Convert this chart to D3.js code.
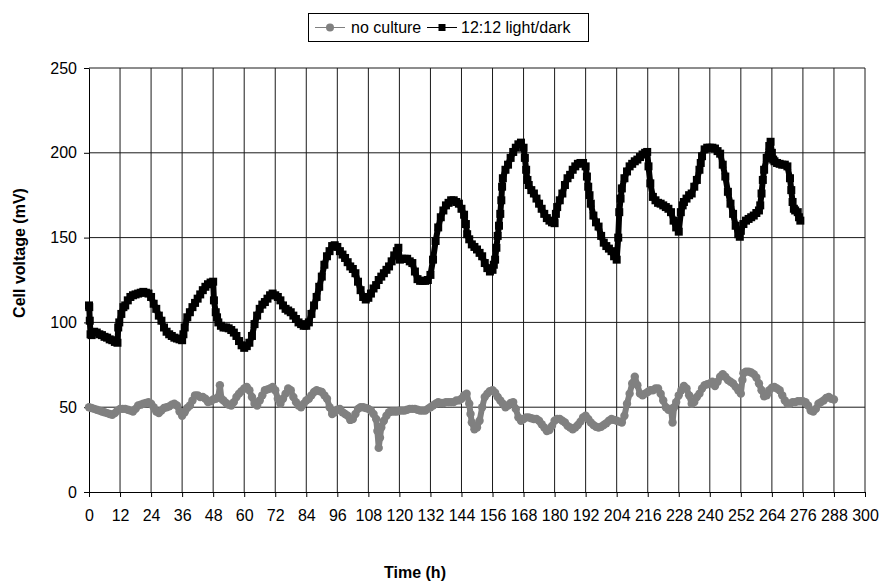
<!DOCTYPE html>
<html>
<head>
<meta charset="utf-8">
<script src="https://cdn.jsdelivr.net/npm/d3@7"></script>
<style>
  body { margin: 0; background: #fff; }
  svg text { font-family: "Liberation Sans", Arial, sans-serif; fill: #000; }
</style>
</head>
<body>
<svg id="chart" width="881" height="582"></svg>
<script>
// tick values for the axes
const xTicks = [0, 12, 24, 36, 48, 60, 72, 84, 96, 108, 120, 132, 144, 156, 168, 180, 192, 204, 216, 228, 240, 252, 264, 276, 288, 300];
const yTicks = [0, 50, 100, 150, 200, 250];

const seriesNames = ["no culture", "12:12 light/dark"];

// [time (h), cell voltage (mV)]
const noCulture = [[0,50],[1,49.5],[2,49],[3,48.5],[4,48],[5,47.5],[6,47],[7,46.5],[8,46],[9,45.5],[10,46.5],[11,48],[12,49],[13,49],[14,49],[15,48.5],[16,48],[17,47.5],[18,49],[19,51],[20,51.5],[21,52],[22,52.5],[23,53],[24,52],[25,50],[26,47.5],[27,46.5],[28,48],[29,49.5],[30,50],[31,50.5],[32,51.5],[33,52],[34,51],[35,47.5],[36,45],[37,47],[38,49.5],[39,51],[40,54],[41,57],[42,57],[43,56],[44,56],[45,55],[46,53],[47,53.5],[48,54.5],[49,55],[50,56],[50.6,63],[51.2,55],[52,54],[53,52.5],[54,51.5],[55,51],[56,53],[57,56],[58,58],[59,59.5],[60,61],[61,62],[62,60],[63,56],[64,52],[65,51],[66,54],[67,57],[68,60],[69,60.5],[70,61],[71,62],[72,60],[73,55],[74,52],[75,55],[76,58],[77,61],[78,60],[79,56],[80,53],[81,51],[82,50],[83,52],[84,54],[85,55],[86,57],[87,59],[88,60],[89,59.5],[90,59],[91,57],[92,55],[93,50],[94,46],[95,47],[96,48.5],[97,49],[98,47],[99,46],[100,45],[101,42.5],[102,43],[103,46],[104,49],[105,50],[106,50],[107,49.5],[108,49],[109,48],[110,46],[111,43],[111.5,36],[112,26],[112.5,32],[113,38],[114,42],[115,45],[116,47],[117,47.5],[118,47.5],[119,47.5],[120,48],[121,48],[122,48],[123,48.5],[124,49],[125,49],[126,49],[127,48.5],[128,48],[129,48],[130,48],[131,49],[132,50],[133,51],[134,52],[135,53],[136,52.5],[137,52.5],[138,53],[139,53],[140,53],[141,53],[142,54],[143,54],[144,55],[145,57],[146,58],[147,52],[147.5,46],[148,41],[149,37],[150,38],[151,42],[152,50],[153,56],[154,58],[155,59.5],[156,60],[157,58.5],[158,56],[159,54],[160,52],[161,50],[162,51],[163,52.5],[164,53],[165,49],[166,44],[167,42],[168,43],[169,44],[170,44],[171,43.5],[172,43],[173,43],[174,42],[175,40],[176,38],[177,36],[178,36.5],[179,39],[180,42],[181,43],[182,43],[183,42],[184,41],[185,39],[186,38],[187,37],[188,38],[189,39.5],[190,41.5],[191,44],[192,45],[193,43],[194,41],[195,39.5],[196,38.5],[197,38],[198,38.5],[199,39.5],[200,40.5],[201,42],[202,43],[203,42.5],[204,42],[205,41.5],[206,41],[207,45],[208,52],[209,58],[210,64],[211,68],[212,63],[213,58],[214,57],[215,58],[216,59],[217,60],[218,60],[219,61],[220,61],[221,58],[222,54],[223,50],[224,48.5],[225,49],[225.6,41],[226.2,50],[227,53],[228,57],[229,60],[230,62.5],[231,61],[232,57],[233,52],[234,53],[235,56],[236,58],[237,61],[238,63],[239,63.5],[240,64],[241,65],[242,62.5],[243,65],[244,68],[245,69.5],[246,68],[247,66],[248,65],[249,64],[250,62],[251,60],[252,58],[252.6,66],[253,70],[254,71],[255,71],[256,70.5],[257,69.5],[258,67.5],[259,64],[260,60],[261,56.5],[262,57],[263,60],[264,61.5],[265,62],[266,61],[267,60],[268,57],[269,54],[270,52],[271,52],[272,53],[273,53],[274,53.5],[275,53.5],[276,53.5],[277,53],[278,51],[279,48],[280,47.5],[281,49],[282,52],[283,53],[284,54],[285,55.5],[286,56],[287,55],[288,54.5]];

const lightDark = [[0,110],[0.1,109],[0.3,101],[0.6,93],[1,92.5],[2,94.5],[3,94],[4,93],[5,92.5],[6,91.5],[7,91],[8,90],[9,89.5],[10,88.5],[11,88],[11.3,97],[11.7,100],[12.5,105],[13.3,109],[14,110],[15,113],[16,115],[17,116],[18,116.5],[19,117],[20,117.5],[21,118],[22,117.5],[23,117],[24,115],[25,111],[26,108],[27,104],[28,101],[29,97],[30,94.5],[31,93],[32,92],[33,91],[34,90.5],[35,90],[36,89.5],[36.5,93],[37,97],[38,103],[39,106],[40,109],[41,111.5],[42,114],[43,116.5],[44,119],[45,121],[46,122.5],[47,123.5],[48,124],[48.3,113],[49,106],[49.5,103],[50,100],[51,98],[52,97],[53,97],[54,96.5],[55,95.5],[56,94],[57,92],[58,89],[59,86.5],[60,85],[61,86],[62,88],[63,92],[64,99],[65,104],[66,108],[67,110.5],[68,112],[69,114],[70,116],[71,117],[72,116],[73,115],[74,113],[75,110],[76,108],[77,107],[78,106],[79,104],[80,102],[81,100],[82,99],[83,98],[84,98],[85,100],[86,105],[87,110],[88,115],[89,121],[90,127],[91,134],[92,139],[93,142],[94,145],[95,145.5],[96,144.5],[97,142],[98,140],[99,138],[100,135.5],[101,133],[102,131.5],[103,129],[104,124],[105,119],[106,115],[107,113.5],[108,114.5],[109,117],[110,120],[111,122],[112,125],[113,127],[114,129],[115,131],[116,133],[117,136],[118,139.5],[119,142],[119.6,144],[120.2,137],[121,137.5],[122,137.5],[123,137.5],[124,136],[125,135],[126,130],[127,125.5],[128,124.5],[129,124.5],[130,124.5],[131,125],[132,128],[133,137],[134,148],[135,156],[136,162],[137,166],[138,169],[139,170.5],[140,172],[141,172],[142,171],[143,170],[144,167],[145,163.5],[145.7,158],[146.2,152],[147,149],[148,146],[149,144.5],[150,143],[151,141],[152,139],[153,135],[154,132],[155,130],[156,131],[156.5,134],[157,137],[157.5,144],[158,151],[158.5,157],[159,164],[159.4,172],[159.7,180],[160,185],[161,190],[162,193],[163,197],[164,200.5],[165,203],[166,205],[167,206],[168,203],[168.5,197],[169,190],[169.5,184],[170,181],[171,178],[172,176],[173,173],[174,170],[175,167],[176,164],[177,161.5],[178,160],[179,159],[180,158.5],[180.5,164],[181,168],[182,172],[183,176],[184,181],[185,185],[186,187],[187,190],[188,192],[189,193.5],[190,194],[191,194],[192,192],[192.5,186],[193,180],[193.5,175],[194,170],[195,163],[196,159],[197,156.5],[198,151],[199,147],[200,145],[201,143.5],[202,142],[203,139],[204,137],[204.6,150],[205,165],[205.5,173],[206,179],[207,185],[208,189],[209,192],[210,193.5],[211,195],[212,196],[213,197.5],[214,199],[215,200],[215.8,200.5],[216.3,192],[217,182],[218,174],[219,172],[220,170.5],[221,170],[222,169],[223,168],[224,167],[225,165],[226,160],[227,156],[228,153.5],[228.8,165],[229.5,169],[230,171],[231,173],[232,175],[233,176],[234,180],[235,184],[236,190],[236.5,194],[237,198],[238,202],[239,203],[240,203],[241,203],[242,202.5],[243,201],[244,199.5],[245,193],[246,186],[247,177],[248,170],[249,164],[250,157],[251,152],[251.6,150.5],[252,154],[253,158],[254,160],[255,161],[256,162],[257,163],[258,164.5],[259,166],[259.5,169],[260,176],[260.5,184],[261,190],[262,197],[263,204],[263.5,206.5],[264,200],[264.5,196],[265,195],[266,194],[267,193.5],[268,193],[269,193],[270,192],[271,185],[271.5,178],[272,171],[272.5,167],[273,166],[274,165],[274.5,162],[275,160]];

const plot = {left: 89, right: 865, top: 68, bottom: 492};

function drawChart() {
    const svg = d3.select('#chart');

    const x = d3.scaleLinear().domain([0, 300]).range([plot.left, plot.right]);
    const y = d3.scaleLinear().domain([0, 250]).range([plot.bottom, plot.top]);

    // grid
    const grid = svg.append('g').attr('stroke', '#1a1a1a').attr('stroke-width', 1);
    grid.selectAll('line.v')
        .data(xTicks.slice(1))
        .join('line')
        .attr('x1', d => x(d)).attr('x2', d => x(d))
        .attr('y1', plot.top).attr('y2', plot.bottom);
    grid.selectAll('line.h')
        .data(yTicks.slice(1))
        .join('line')
        .attr('x1', plot.left).attr('x2', plot.right)
        .attr('y1', d => y(d)).attr('y2', d => y(d));

    // axes
    const xAxis = svg.append('g')
        .attr('transform', 'translate(0,' + plot.bottom + ')')
        .call(d3.axisBottom(x).tickValues(xTicks).tickSize(5).tickPadding(13).tickSizeOuter(0));
    const yAxis = svg.append('g')
        .attr('transform', 'translate(' + plot.left + ',0)')
        .call(d3.axisLeft(y).tickValues(yTicks).tickSize(5).tickPadding(7).tickSizeOuter(0));
    [xAxis, yAxis].forEach(a => {
        a.attr('font-size', 16).attr('font-family', null);
        a.selectAll('path, line').attr('stroke', '#000');
        a.selectAll('text').attr('fill', '#000');
    });

    const line = d3.line().x(d => x(d[0])).y(d => y(d[1]));

    // no culture: grey line with round markers (markers overlap into a band)
    svg.append('path')
        .datum(noCulture)
        .attr('fill', 'none').attr('stroke', '#808080').attr('stroke-width', 6)
        .attr('stroke-linejoin', 'round').attr('stroke-linecap', 'round')
        .attr('d', line);
    svg.append('g').attr('fill', '#808080')
        .selectAll('circle')
        .data(noCulture)
        .join('circle')
        .attr('cx', d => x(d[0]))
        .attr('cy', d => y(d[1]))
        .attr('r', 4.2);

    // 12:12 light/dark: black line with square markers, dense enough to read as a band
    svg.append('path')
        .datum(lightDark)
        .attr('fill', 'none').attr('stroke', '#000').attr('stroke-width', 6)
        .attr('stroke-linejoin', 'round')
        .attr('d', line);
    svg.append('g').attr('fill', '#000')
        .selectAll('rect')
        .data(lightDark)
        .join('rect')
        .attr('x', d => x(d[0]) - 4)
        .attr('y', d => y(d[1]) - 4)
        .attr('width', 8).attr('height', 8);

    // axis titles
    svg.append('text')
        .attr('transform', 'translate(25,253) rotate(-90)')
        .attr('text-anchor', 'middle')
        .attr('font-size', 16).attr('font-weight', 'bold')
        .text('Cell voltage (mV)');
    svg.append('text')
        .attr('x', 415).attr('y', 578)
        .attr('text-anchor', 'middle')
        .attr('font-size', 16).attr('font-weight', 'bold')
        .text('Time (h)');

    // legend
    const legend = svg.append('g');
    legend.append('rect')
        .attr('x', 308.5).attr('y', 13.5).attr('width', 280).attr('height', 28)
        .attr('fill', '#fff').attr('stroke', '#000');
    const items = [
        {name: seriesNames[0], x0: 315, color: '#808080', shape: 'circle', tx: 351},
        {name: seriesNames[1], x0: 427, color: '#000', shape: 'square', tx: 461}
    ];
    items.forEach(it => {
        legend.append('line')
            .attr('x1', it.x0).attr('x2', it.x0 + 30)
            .attr('y1', 27.5).attr('y2', 27.5)
            .attr('stroke', it.color);
        if (it.shape === 'circle') {
            legend.append('circle').attr('cx', it.x0 + 15).attr('cy', 27.5).attr('r', 4).attr('fill', it.color);
        } else {
            legend.append('rect').attr('x', it.x0 + 11.5).attr('y', 24).attr('width', 7).attr('height', 7).attr('fill', it.color);
        }
        legend.append('text')
            .attr('x', it.tx).attr('y', 33)
            .attr('font-size', 16)
            .text(it.name);
    });
}

drawChart();
</script>
</body>
</html>
